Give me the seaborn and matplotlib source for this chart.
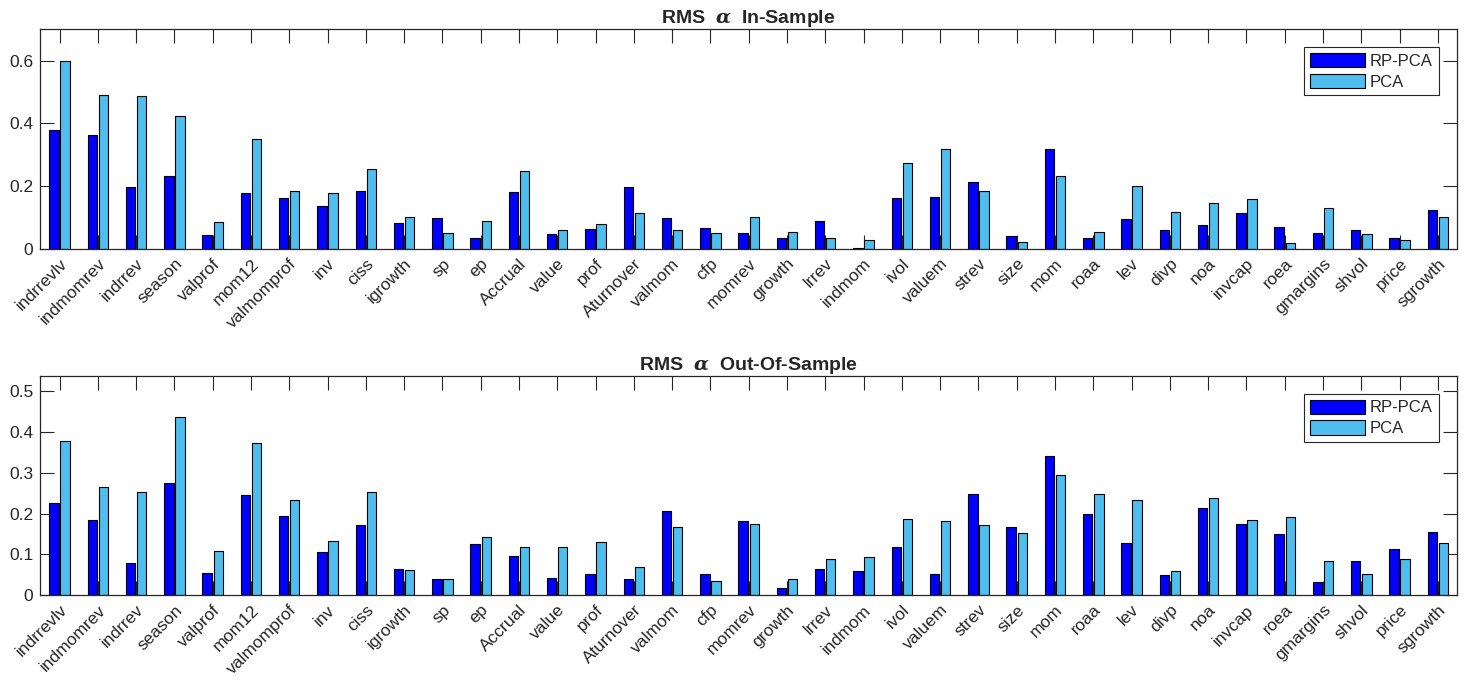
import numpy as np
import pandas as pd
import matplotlib
matplotlib.use("Agg")
import matplotlib.pyplot as plt
import seaborn as sns

factors = ["indrrevlv", "indmomrev", "indrrev", "season", "valprof", "mom12",
           "valmomprof", "inv", "ciss", "igrowth", "sp", "ep", "Accrual", "value",
           "prof", "Aturnover", "valmom", "cfp", "momrev", "growth", "lrrev",
           "indmom", "ivol", "valuem", "strev", "size", "mom", "roaa", "lev",
           "divp", "noa", "invcap", "roea", "gmargins", "shvol", "price", "sgrowth"]

is_rppca = [0.379, 0.364, 0.198, 0.233, 0.043, 0.177, 0.164, 0.138, 0.184, 0.082,
            0.100, 0.034, 0.183, 0.048, 0.065, 0.197, 0.098, 0.066, 0.052, 0.034,
            0.090, 0.004, 0.163, 0.166, 0.215, 0.041, 0.317, 0.035, 0.097, 0.059,
            0.077, 0.114, 0.070, 0.052, 0.060, 0.035, 0.123]
is_pca = [0.599, 0.491, 0.486, 0.424, 0.087, 0.350, 0.185, 0.179, 0.254, 0.103,
          0.052, 0.088, 0.247, 0.059, 0.080, 0.115, 0.061, 0.052, 0.103, 0.055,
          0.036, 0.028, 0.273, 0.318, 0.186, 0.023, 0.232, 0.055, 0.200, 0.119,
          0.147, 0.160, 0.019, 0.130, 0.049, 0.030, 0.103]

oos_rppca = [0.225, 0.185, 0.079, 0.276, 0.054, 0.246, 0.195, 0.107, 0.171, 0.065,
             0.039, 0.125, 0.095, 0.042, 0.053, 0.041, 0.207, 0.052, 0.182, 0.018,
             0.064, 0.060, 0.117, 0.053, 0.248, 0.167, 0.341, 0.199, 0.129, 0.049,
             0.213, 0.175, 0.149, 0.033, 0.085, 0.113, 0.155]
oos_pca = [0.378, 0.266, 0.254, 0.437, 0.108, 0.372, 0.234, 0.132, 0.253, 0.063,
           0.041, 0.142, 0.119, 0.117, 0.130, 0.070, 0.166, 0.034, 0.174, 0.039,
           0.090, 0.093, 0.186, 0.183, 0.173, 0.153, 0.295, 0.247, 0.233, 0.059,
           0.238, 0.184, 0.191, 0.084, 0.051, 0.088, 0.128]

methods = ["RP-PCA", "PCA"]
colors = ["#0000FF", "#4DBEEE"]

panels = [
    ("RMS  $\\boldsymbol{\\alpha}$  In-Sample", is_rppca, is_pca, [0, 0.7], [0, 0.2, 0.4, 0.6]),
    ("RMS  $\\boldsymbol{\\alpha}$  Out-Of-Sample", oos_rppca, oos_pca, [0, 0.5375],
     [0, 0.1, 0.2, 0.3, 0.4, 0.5]),
]

sns.set_style("white")
plt.rcParams["font.family"] = ["Liberation Sans", "DejaVu Sans"]
plt.rcParams["mathtext.fontset"] = "dejavuserif"

fig = plt.figure(figsize=(14.68, 6.85), dpi=100)
axes_pos = [[0.0275, 0.6365, 0.965, 0.3208], [0.0275, 0.131, 0.965, 0.3205]]
edge = "#262626"

for pos, (title, rp, pc, ylim, yticks) in zip(axes_pos, panels):
    ax = fig.add_axes(pos)
    df = pd.DataFrame({
        "factor": factors * 2,
        "value": list(rp) + list(pc),
        "method": [methods[0]] * len(factors) + [methods[1]] * len(factors),
    })
    sns.barplot(data=df, x="factor", y="value", hue="method", order=factors,
                hue_order=methods, palette=colors, saturation=1, width=0.58,
                gap=0.155, edgecolor="black", linewidth=0.8, ax=ax, legend=True)
    ax.set_xlim(-0.5, len(factors) - 0.5)
    ax.set_ylim(*ylim)
    ax.set_yticks(yticks)
    ax.set_yticklabels(["0" if t == 0 else f"{t:g}" for t in yticks], fontsize=12.5,
                       color="#262626")
    ax.set_xticks(range(len(factors)))
    ax.set_xticklabels(factors, rotation=45, ha="right", va="top",
                       rotation_mode="anchor", fontsize=12.5, color="#262626")
    ax.set_xlabel("")
    ax.set_ylabel("")
    ax.set_axisbelow(True)
    ax.tick_params(axis="both", which="both", direction="in", length=10, width=0.8,
                   color=edge, top=True, right=True, bottom=True, left=True, pad=5)
    ax.tick_params(axis="x", pad=5)
    for s in ax.spines.values():
        s.set_visible(True)
        s.set_color(edge)
        s.set_linewidth(0.9)
    ax.set_title(title, fontsize=14, fontweight="bold", pad=4)
    handles, labels = ax.get_legend_handles_labels()
    leg = ax.legend(handles, labels, loc="upper right",
                    bbox_to_anchor=(0.987, 0.918), borderaxespad=0, fontsize=12,
                    frameon=True, fancybox=False, edgecolor=edge, framealpha=1,
                    handlelength=3.3, handleheight=0.95, handletextpad=0.3,
                    labelspacing=0.28, borderpad=0.35)
    leg.get_frame().set_linewidth(0.8)

fig.savefig("out.png", dpi=100)
